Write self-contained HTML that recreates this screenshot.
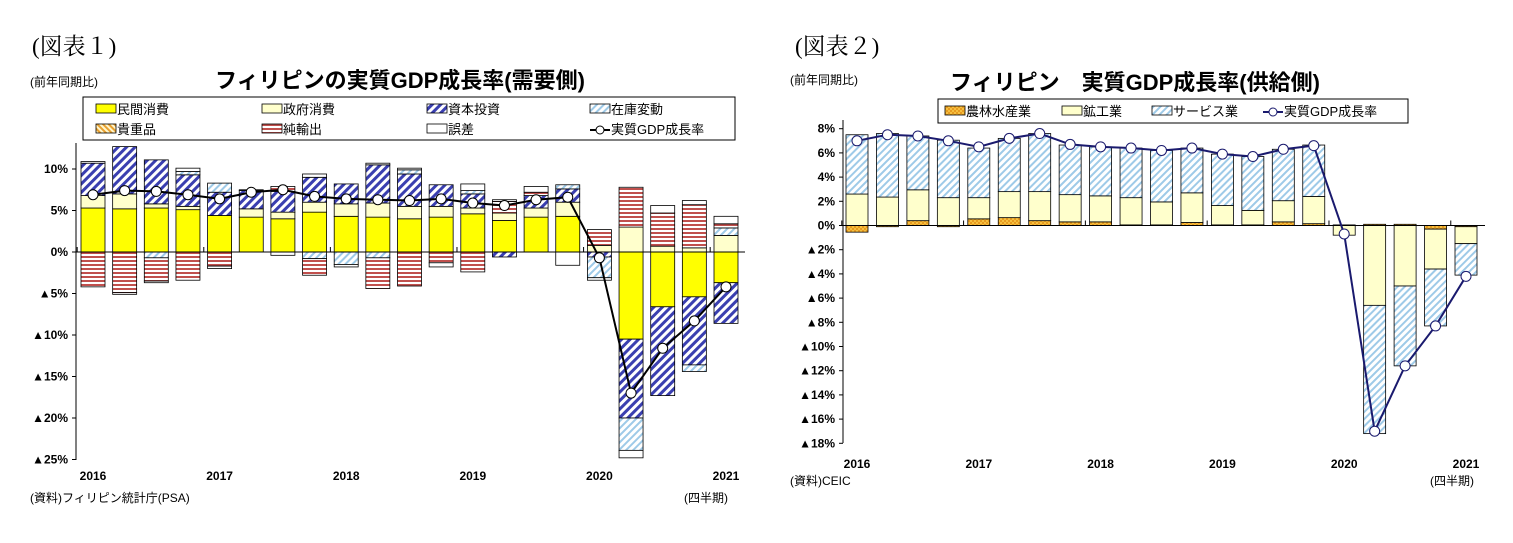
<!DOCTYPE html>
<html><head><meta charset="utf-8">
<style>
html,body{margin:0;padding:0;background:#fff;}
svg{display:block;font-family:"Liberation Sans","Noto Sans CJK JP",sans-serif;}
.t{font-family:"Liberation Serif","Noto Serif CJK SC",serif;}
</style></head>
<body>
<svg id="c" width="1513" height="543" viewBox="0 0 1513 543" xmlns="http://www.w3.org/2000/svg">
<defs>
<pattern id="pInv" width="6" height="6" patternUnits="userSpaceOnUse" patternTransform="rotate(45)"><rect width="6" height="6" fill="#fff"/><rect width="3" height="6" fill="#3a3fb0"/></pattern>
<pattern id="pStk" width="5" height="5" patternUnits="userSpaceOnUse" patternTransform="rotate(45)"><rect width="5" height="5" fill="#fff"/><rect width="2" height="5" fill="#9ecae8"/></pattern>
<pattern id="pVal" width="4" height="4" patternUnits="userSpaceOnUse" patternTransform="rotate(-45)"><rect width="4" height="4" fill="#fff6cc"/><rect width="2" height="4" fill="#e8a030"/></pattern>
<pattern id="pNet" width="4" height="4" patternUnits="userSpaceOnUse"><rect width="4" height="4" fill="#fff"/><rect width="4" height="2" fill="#c0504d"/></pattern>
<pattern id="pAgr" width="4" height="4" patternUnits="userSpaceOnUse"><rect width="4" height="4" fill="#f5c040"/><rect width="2" height="2" fill="#e89a20"/><rect x="2" y="2" width="2" height="2" fill="#e89a20"/></pattern>
</defs>
<text class="t" x="32" y="54" font-size="23">(図表１)</text>
<text x="30" y="86" font-size="12">(前年同期比)</text>
<text x="400" y="88" font-size="22" font-weight="bold" text-anchor="middle">フィリピンの実質GDP成長率(需要側)</text>
<text x="30" y="502" font-size="12">(資料)フィリピン統計庁(PSA)</text>
<text x="684" y="502" font-size="12">(四半期)</text>
<text class="t" x="795" y="54" font-size="23">(図表２)</text>
<text x="790" y="84" font-size="12">(前年同期比)</text>
<text x="1135" y="90" font-size="22" font-weight="bold" text-anchor="middle">フィリピン　実質GDP成長率(供給側)</text>
<text x="790" y="485" font-size="12">(資料)CEIC</text>
<text x="1430" y="485" font-size="12">(四半期)</text>
<g id="L"></g><g id="R"></g>
</svg>
<script>
// ---- Left chart data (demand side), 2016Q1..2021Q1 ----
const quarters = ["16Q1","16Q2","16Q3","16Q4","17Q1","17Q2","17Q3","17Q4","18Q1","18Q2","18Q3","18Q4","19Q1","19Q2","19Q3","19Q4","20Q1","20Q2","20Q3","20Q4","21Q1"];
const yearLabels = ["2016","2017","2018","2019","2020","2021"];
const privCons = [5.3,5.2,5.3,5.1,4.4,4.2,4.0,4.8,4.3,4.2,4.0,4.2,4.6,3.8,4.2,4.3,0,-10.5,-6.6,-5.4,-3.7];
const govCons = [1.5,1.8,0.5,0.4,0,1.0,0.8,1.2,1.5,1.7,1.5,1.3,0.7,0.9,1.1,1.7,0.8,3.0,0.7,0.5,2.0];
const capInv = [3.9,5.7,5.3,3.8,2.8,2.2,2.5,3.0,2.4,4.6,3.9,2.6,1.7,-0.6,1.5,1.6,-0.6,-9.5,-10.7,-8.2,-4.9];
const stockChg = [0,0,-0.7,0.4,1.1,0,0,-0.8,-1.5,-0.7,0.5,0,0.4,0,0,0.5,-2.5,-3.9,0,-0.8,0.9];
const valuables = [0,0,0,0,0,0,0,0,0,0,0,0,0,0,0,0,0,0,0,0,0];
const netExports = [-4.2,-4.9,-2.8,-3.4,-1.7,0,0.6,-2.0,0,-3.7,-4.1,-1.3,-2.4,1.4,0.4,0,1.9,4.8,4.0,5.2,0.5];
const discrepancy = [0.2,-0.2,-0.2,0.4,-0.3,0.1,-0.4,0.4,-0.3,0.2,0.2,-0.5,0.8,0.2,0.7,-1.6,-0.3,-0.9,0.9,0.5,0.9];
const gdpDemand = [6.9,7.4,7.3,6.9,6.4,7.2,7.5,6.7,6.4,6.3,6.2,6.4,5.9,5.6,6.3,6.6,-0.7,-17.0,-11.6,-8.3,-4.2];
const leftTicks = [10,5,0,-5,-10,-15,-20,-25];
// ---- Right chart data (supply side) ----
const agri = [-0.55,-0.1,0.4,-0.1,0.55,0.65,0.4,0.3,0.3,0.05,0.05,0.25,0.05,0.05,0.3,0.15,0.05,0.1,0.1,-0.3,-0.1];
const industry = [2.6,2.35,2.55,2.3,1.75,2.15,2.4,2.25,2.15,2.25,1.9,2.45,1.6,1.2,1.75,2.25,-0.8,-6.6,-5.0,-3.3,-1.4];
const services = [4.9,5.25,4.45,4.75,4.1,4.4,4.8,4.1,4.05,4.1,4.25,3.7,4.25,4.45,4.25,4.25,0,-10.6,-6.6,-4.7,-2.6];
const gdpSupply = [7.0,7.5,7.4,7.0,6.5,7.2,7.6,6.7,6.5,6.4,6.2,6.4,5.9,5.7,6.3,6.6,-0.7,-17.0,-11.6,-8.3,-4.2];
const rightTicks = [8,6,4,2,0,-2,-4,-6,-8,-10,-12,-14,-16,-18];

const NS="http://www.w3.org/2000/svg";
function mk(tag,attrs,parent,txt){const e=document.createElementNS(NS,tag);for(const k in attrs)e.setAttribute(k,attrs[k]);if(txt!==undefined)e.textContent=txt;parent.appendChild(e);return e;}
function fmtTick(v,dec){const s=Math.abs(v)+"%";return v<0?"▲"+s:s;}

function drawChart(g,cfg){
  const y=v=>cfg.y0-(v)*cfg.k;
  const x=i=>cfg.x0+i*cfg.step;
  // axis
  let ax=mk('line',{x1:cfg.axX,y1:cfg.top,x2:cfg.axX,y2:cfg.bot,stroke:'#000','stroke-width':1},g);
  
  cfg.ticks.forEach(t=>{
    const tl=mk('line',{x1:cfg.axX-4,y1:y(t),x2:cfg.axX,y2:y(t),stroke:'#000'},g);
    
    const tx=mk('text',{x:cfg.axX-8,y:y(t)+4,'font-size':12,'font-weight':'bold','text-anchor':'end'},g,fmtTick(t));
    
  });
  // bars
  quarters.forEach((q,i)=>{
    let pos=0,neg=0;
    cfg.series.forEach(s=>{
      const v=s.data[i];if(!v)return;
      let a,b;
      if(v>0){a=pos;b=pos+v;pos=b;}else{a=neg;b=neg+v;neg=b;}
      const r=mk('rect',{x:x(i)-cfg.bw/2,y:Math.min(y(a),y(b)),width:cfg.bw,height:Math.abs(y(a)-y(b)),fill:s.fill,stroke:'#000','stroke-width':0.8},g);
      
      
    });
  });
  // zero line
  const z=mk('line',{x1:cfg.axX,y1:y(0),x2:cfg.right,y2:y(0),stroke:'#000'},g);
  
  yearLabels.forEach((yl,j)=>{
    const i=j*4;
    const tk=mk('line',{x1:x(i)-cfg.step/2,y1:y(0)-5,x2:x(i)-cfg.step/2,y2:y(0),stroke:'#000'},g);
    
    const t=mk('text',{x:x(i),y:cfg.yearY,'font-size':12,'font-weight':'bold','text-anchor':'middle'},g,yl);
    
  });
  // line
  const pts=cfg.gdp.map((v,i)=>x(i)+','+y(v)).join(' ');
  const pl=mk('polyline',{points:pts,fill:'none',stroke:cfg.lineColor,'stroke-width':2},g);
  
  cfg.gdp.forEach((v,i)=>{
    const c=mk('circle',{cx:x(i),cy:y(v),r:5,fill:'#fff',stroke:cfg.mColor,'stroke-width':1},g);
    
  });
}

const L=document.getElementById('L'),R=document.getElementById('R');
drawChart(L,{p:'left',y0:252,k:8.3,x0:93,step:31.65,bw:24,axX:76,top:143,bot:460,right:745,yearY:480,ticks:leftTicks,gdp:gdpDemand,lineColor:'#000',mColor:'#000',
  series:[{name:'private-consumption',data:privCons,fill:'#ffff00'},{name:'government-consumption',data:govCons,fill:'#ffffcc'},{name:'capital-investment',data:capInv,fill:'url(#pInv)'},{name:'stock-change',data:stockChg,fill:'url(#pStk)'},{name:'valuables',data:valuables,fill:'url(#pVal)'},{name:'net-exports',data:netExports,fill:'url(#pNet)'},{name:'discrepancy',data:discrepancy,fill:'#fff'}]});
drawChart(R,{p:'right',y0:225.5,k:12.1,x0:857,step:30.45,bw:22,axX:843,top:120,bot:443,right:1485,yearY:468,ticks:rightTicks,gdp:gdpSupply,lineColor:'#1a1a6e',mColor:'#1a1a6e',
  series:[{name:'agriculture',data:agri,fill:'url(#pAgr)'},{name:'industry',data:industry,fill:'#ffffcc'},{name:'services',data:services,fill:'url(#pStk)'}]});

// legends
function legend(g,p,box,items){
  const b=mk('rect',{x:box[0],y:box[1],width:box[2],height:box[3],fill:'#fff',stroke:'#000'},g);
  
  items.forEach(it=>{
    if(it.line){
      const l=mk('line',{x1:it.x,y1:it.y-4,x2:it.x+20,y2:it.y-4,stroke:it.line,'stroke-width':2},g);
      
      const c=mk('circle',{cx:it.x+10,cy:it.y-4,r:4,fill:'#fff',stroke:it.line},g);
      
    }else{
      const s=mk('rect',{x:it.x,y:it.y-10,width:20,height:9,fill:it.fill,stroke:'#000','stroke-width':0.8},g);
      
    }
    const t=mk('text',{x:it.x+21,y:it.y,'font-size':13},g,it.label);
    
  });
}
legend(L,'left',[83,97,652,43],[
 {x:96,y:114,fill:'#ffff00',label:'民間消費'},{x:262,y:114,fill:'#ffffcc',label:'政府消費'},{x:427,y:114,fill:'url(#pInv)',label:'資本投資'},{x:590,y:114,fill:'url(#pStk)',label:'在庫変動'},
 {x:96,y:134,fill:'url(#pVal)',label:'貴重品'},{x:262,y:134,fill:'url(#pNet)',label:'純輸出'},{x:427,y:134,fill:'#fff',label:'誤差'},{x:590,y:134,line:'#000',label:'実質GDP成長率'}]);
legend(R,'right',[938,99,470,24],[
 {x:945,y:116,fill:'url(#pAgr)',label:'農林水産業'},{x:1062,y:116,fill:'#ffffcc',label:'鉱工業'},{x:1152,y:116,fill:'url(#pStk)',label:'サービス業'},{x:1263,y:116,line:'#1a1a6e',label:'実質GDP成長率'}]);
</script>
</body></html>
